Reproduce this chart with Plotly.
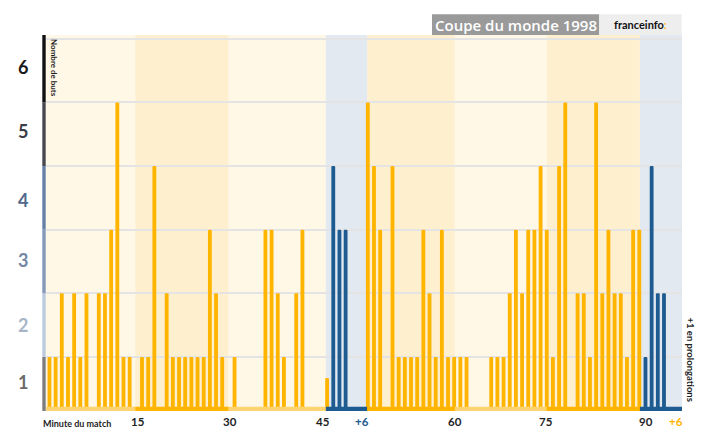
import plotly.graph_objects as go

# ---------------- DATA ----------------
first_half_minutes = list(range(1, 46))
first_half_goals = [1, 1, 2, 1, 2, 1, 2, 0, 2, 2, 3, 5, 1, 1, 0, 1, 1, 4, 0, 2,
                    1, 1, 1, 1, 1, 1, 3, 2, 1, 0, 1, 0, 0, 0, 0, 3, 3, 2, 1, 0,
                    2, 3, 0, 0, 0]
stoppage1_extra = [1, 2, 3, 4, 5, 6]
stoppage1_goals = [0.67, 4, 3, 3, 0, 0]
second_half_minutes = list(range(46, 91))
second_half_goals = [5, 4, 3, 0, 4, 1, 1, 1, 1, 3, 2, 1, 3, 1, 1, 1, 1, 0, 0, 0,
                     1, 1, 1, 2, 3, 2, 3, 3, 4, 3, 1, 4, 5, 0, 2, 2, 1, 5, 2, 3,
                     2, 2, 1, 3, 3]
stoppage2_extra = [1, 2, 3, 4, 5, 6]
stoppage2_goals = [1, 4, 2, 2, 0, 0]
y_labels = ["1", "2", "3", "4", "5", "6"]
x_tick_labels = ["15", "30", "45", "+6", "60", "75", "90", "+6"]

# ---------------- STYLE / LAYOUT ----------------
ORANGE = "#ffb400"
LIGHT_ORANGE = "#fdd46f"
BLUE = "#1d5b91"
CREAM = "#fff8e7"
CREAM_DARK = "#feefcf"
BLUE_BG = "#e3e9f1"
TXT = "#1e1e1e"
FONT = "Lato"

SECOND_HALF_SHIFT = 6.6
X0, X1 = 0.44, 103.52
Y0, Y1 = 0.15, 6.06
L, R, T, B = 46, 38, 35, 33
W, H = 720, 444
PW, PH = W - L - R, H - T - B

x_fh = first_half_minutes
x_st1 = [45 + k for k in stoppage1_extra]
x_sh = [m + SECOND_HALF_SHIFT for m in second_half_minutes]
x_st2 = [90 + SECOND_HALF_SHIFT + k for k in stoppage2_extra]
st1_colors = [ORANGE] + [BLUE] * (len(stoppage1_goals) - 1)

BW = 0.62
fig = go.Figure()
bar_common = dict(width=BW, hoverinfo="skip", showlegend=False)
fig.add_trace(go.Bar(x=x_fh, y=first_half_goals, marker=dict(color=ORANGE, cornerradius=2, line_width=0), **bar_common))
fig.add_trace(go.Bar(x=x_st1, y=stoppage1_goals, marker=dict(color=st1_colors, cornerradius=2, line_width=0), **bar_common))
fig.add_trace(go.Bar(x=x_sh, y=second_half_goals, marker=dict(color=ORANGE, cornerradius=2, line_width=0), **bar_common))
fig.add_trace(go.Bar(x=x_st2, y=stoppage2_goals, marker=dict(color=BLUE, cornerradius=2, line_width=0), **bar_common))

shapes = []
bounds = [X0, 14.9, 30.05, 45.8, 52.5, 66.7, 81.6, 96.7, X1]
bg_cols = [CREAM, CREAM_DARK, CREAM, BLUE_BG, CREAM_DARK, CREAM, CREAM_DARK, BLUE_BG]
base_cols = [LIGHT_ORANGE, ORANGE, LIGHT_ORANGE, BLUE, ORANGE, LIGHT_ORANGE, ORANGE, BLUE]
for i in range(len(bg_cols)):
    shapes.append(dict(type="rect", xref="x", yref="paper", x0=bounds[i], x1=bounds[i + 1],
                       y0=0, y1=1, fillcolor=bg_cols[i], line_width=0, layer="below"))
    shapes.append(dict(type="rect", xref="x", yref="paper", x0=bounds[i], x1=bounds[i + 1],
                       y0=0, y1=4.2 / PH, fillcolor=base_cols[i], line_width=0, layer="above"))

# left colored axis strip
strip_cols = ["#7d7d7d", "#bccadb", "#8499b8", "#667fa4", "#48484f", "#111111"]
strip_edges = [Y0, 1, 2, 3, 4, 5, Y1]
for i, c in enumerate(strip_cols):
    shapes.append(dict(type="rect", xref="paper", yref="y", x0=-3.7 / PW, x1=-0.3 / PW,
                       y0=strip_edges[i], y1=strip_edges[i + 1], fillcolor=c, line_width=0))

def px_x(px):
    return (px - L) / PW

def px_y(py):
    return (H - B - py) / PH

# header boxes
shapes.append(dict(type="rect", xref="paper", yref="paper", x0=px_x(432), x1=px_x(599.3),
                   y0=px_y(35), y1=px_y(14.3), fillcolor="#9a9a9a", line_width=0))
shapes.append(dict(type="rect", xref="paper", yref="paper", x0=px_x(599.3), x1=px_x(681.7),
                   y0=px_y(35), y1=px_y(14.3), fillcolor="#eeeeee", line_width=0))

annotations = []
label_cols = ["#6b6b6b", "#a9b6c9", "#7587a3", "#51688a", "#3d3d48", "#1a1a1a"]
label_y = [0.6, 1.5, 2.52, 3.47, 4.55, 5.56]
for lab, yy, c in zip(y_labels, label_y, label_cols):
    annotations.append(dict(text=lab, xref="paper", yref="y", x=px_x(23), y=yy, showarrow=False,
                            font=dict(family=FONT, size=18, color=c, weight="bold"),
                            xanchor="center", yanchor="middle"))

tick_pos = [15.27, 30.3, 45.4, 51.6, 66.7, 81.5, 97.7, 102.5]
tick_cols = [TXT, TXT, TXT, BLUE, TXT, TXT, TXT, ORANGE]
for lab, xx, c in zip(x_tick_labels, tick_pos, tick_cols):
    annotations.append(dict(text=lab, xref="x", yref="paper", x=xx, y=px_y(421.5), showarrow=False,
                            font=dict(family=FONT, size=11.5, color=c, weight="bold"),
                            xanchor="center", yanchor="middle"))

annotations.append(dict(text="Minute du match", xref="paper", yref="paper", x=px_x(41), y=px_y(423),
                        showarrow=False, xanchor="left", yanchor="middle",
                        font=dict(family=FONT, size=9, color=TXT, weight="bold")))
annotations.append(dict(text="Nombre de buts", xref="paper", yref="paper", x=px_x(54), y=px_y(68),
                        showarrow=False, textangle=90, xanchor="center", yanchor="middle",
                        font=dict(family=FONT, size=8, color=TXT, weight="bold")))
annotations.append(dict(text="+1 en prolongations", xref="paper", yref="paper", x=px_x(690.5), y=px_y(359),
                        showarrow=False, textangle=90, xanchor="center", yanchor="middle",
                        font=dict(family=FONT, size=9.5, color=TXT, weight="bold")))
annotations.append(dict(text="Coupe du monde 1998", xref="paper", yref="paper", x=px_x(515.7), y=px_y(24.8),
                        showarrow=False, xanchor="center", yanchor="middle",
                        font=dict(family="Open Sans", size=15, color="white", weight=600)))
annotations.append(dict(text="franceinfo<span style='color:#fdb913'>:</span>", xref="paper", yref="paper",
                        x=px_x(640.5), y=px_y(24.8), showarrow=False, xanchor="center", yanchor="middle",
                        font=dict(family=FONT, size=11, color="#111111", weight="bold")))

fig.update_layout(
    width=W, height=H,
    margin=dict(l=L, r=R, t=T, b=B, pad=0),
    paper_bgcolor="white", plot_bgcolor="white",
    barmode="overlay",
    shapes=shapes, annotations=annotations,
    xaxis=dict(range=[X0, X1], showgrid=False, zeroline=False, showticklabels=False, ticks="", fixedrange=True),
    yaxis=dict(range=[Y0, Y1], tickvals=[1, 2, 3, 4, 5, 6], showticklabels=False, ticks="",
               showgrid=True, gridcolor="#e4e4e4", gridwidth=1.5, zeroline=False, fixedrange=True),
    showlegend=False,
)
fig.write_html("out.html", config={"displayModeBar": False})
